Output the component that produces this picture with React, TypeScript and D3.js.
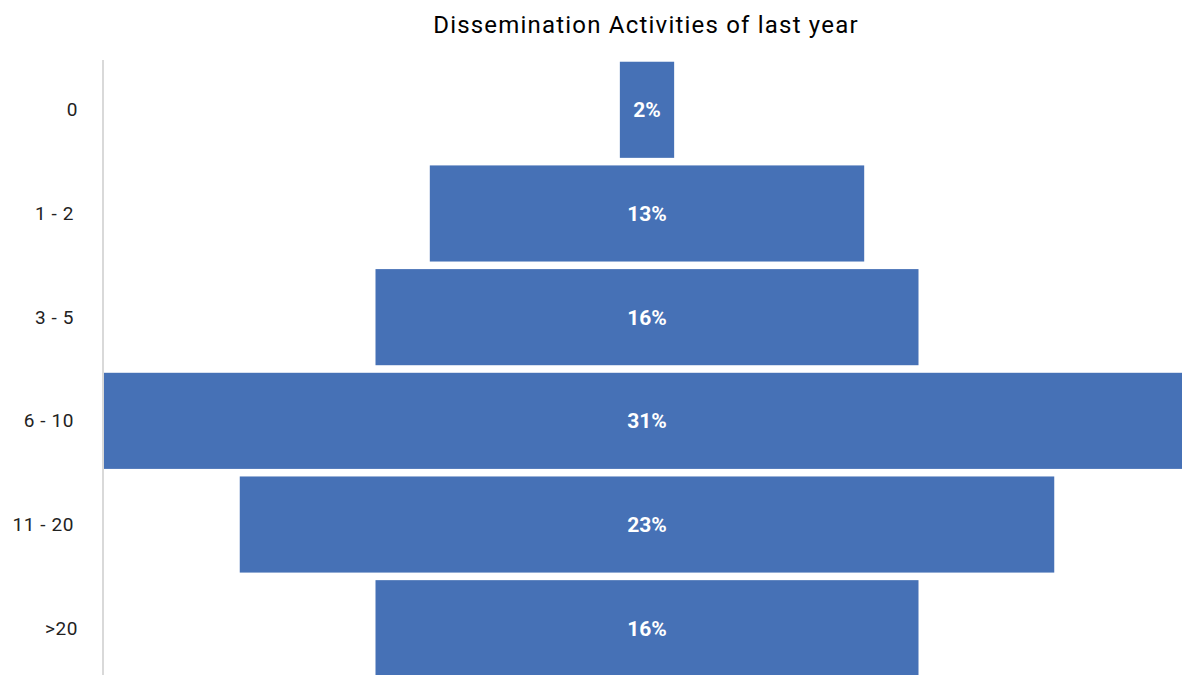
import * as d3 from "d3";
import { useEffect, useRef } from "react";

const categories = ["0", "1 - 2", "3 - 5", "6 - 10", "11 - 20", ">20"];
// respondent counts per band (percent labels are count / total)
const counts = [1, 8, 10, 20, 15, 10];
const title = "Dissemination Activities of last year";

const App = () => {
  const ref = useRef<SVGSVGElement | null>(null);

  useEffect(() => {
    const svg = d3.select(ref.current);
    svg.selectAll("*").remove();

    const width = 1182,
      height = 675;
    const plotLeft = 103,
      plotTop = 58,
      plotBottom = 680,
      centerX = 647;
    const total = d3.sum(counts);

    const yScale = d3
      .scaleBand<string>()
      .domain(categories)
      .range([plotTop, plotBottom])
      .paddingInner(0.073)
      .paddingOuter(0.036);

    const wScale = d3
      .scaleLinear()
      .domain([0, d3.max(counts) ?? 0])
      .range([0, 1086]);

    svg
      .append("text")
      .attr("x", 646)
      .attr("y", 33)
      .attr("text-anchor", "middle")
      .attr("font-family", "Roboto, sans-serif")
      .attr("font-size", 24)
      .attr("letter-spacing", 1.2)
      .attr("fill", "#000")
      .text(title);

    const rows = svg
      .append("g")
      .selectAll("g")
      .data(categories)
      .join("g");

    rows
      .append("rect")
      .attr("x", (_, i) => centerX - wScale(counts[i]) / 2)
      .attr("y", (d) => yScale(d) ?? 0)
      .attr("width", (_, i) => wScale(counts[i]))
      .attr("height", yScale.bandwidth())
      .attr("fill", "#4671b6");

    rows
      .append("text")
      .attr("x", centerX)
      .attr("y", (d) => (yScale(d) ?? 0) + yScale.bandwidth() / 2)
      .attr("dy", "0.35em")
      .attr("text-anchor", "middle")
      .attr("font-family", "Roboto, sans-serif")
      .attr("font-weight", "bold")
      .attr("font-size", 21)
      .attr("fill", "#fff")
      .text((_, i) => `${Math.round((counts[i] / total) * 100)}%`);

    rows
      .append("text")
      .attr("x", (d) => (d.length > 3 ? 74 : 78))
      .attr("y", (d) => (yScale(d) ?? 0) + yScale.bandwidth() / 2)
      .attr("dy", "0.35em")
      .attr("text-anchor", "end")
      .attr("font-family", "Roboto, sans-serif")
      .attr("font-size", 19)
      .attr("letter-spacing", 0.6)
      .attr("fill", "#222")
      .text((d) => d);

    svg
      .append("line")
      .attr("x1", plotLeft)
      .attr("x2", plotLeft)
      .attr("y1", 60)
      .attr("y2", height)
      .attr("stroke", "#d9d9d9")
      .attr("stroke-width", 2);

    svg.attr("width", width).attr("height", height);
  }, []);

  return (
    <svg
      ref={ref}
      width={1182}
      height={675}
      style={{ position: "absolute", left: 0, top: 0, background: "#fff" }}
    ></svg>
  );
};

export default App;
